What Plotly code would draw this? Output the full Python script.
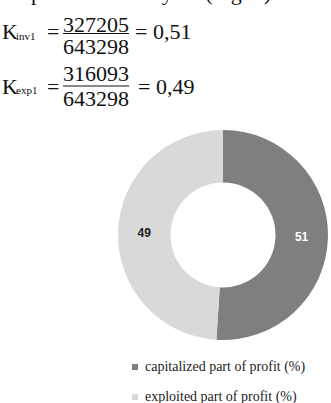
import plotly.graph_objects as go

W, H = 331, 403

# Data
categories = ["capitalized part of profit (%)", "exploited part of profit (%)"]
values = [51, 49]
colors = ["#7f7f7f", "#d9d9d9"]
label_colors = ["#ffffff", "#222222"]

# Formula text
header_line = "r of the previous 2017 year (Fig. 3)"
k_names = ["inv1", "exp1"]
numerators = ["327205", "316093"]
denominators = ["643298", "643298"]
results = ["0,51", "0,49"]

def px(x):
    return x / W

def py(y):
    return 1 - y / H

fig = go.Figure()
fig.add_trace(go.Pie(
    labels=categories,
    values=values,
    marker=dict(colors=colors, line=dict(width=0)),
    hole=0.5,
    sort=False,
    direction="clockwise",
    rotation=0,
    textinfo="value",
    texttemplate="<b>%{value}</b>",
    textposition="inside",
    insidetextorientation="horizontal",
    textfont=dict(family="Liberation Sans", size=12, color=label_colors),
    domain=dict(x=[px(118), px(328)], y=[py(340), py(130)]),
    showlegend=False,
    hoverinfo="label+value",
))

annotations = []
shapes = []
serif = "Liberation Serif"

# header line (cut off at top)
annotations.append(dict(text=header_line, x=px(273), y=py(-8), xref="paper", yref="paper",
                        xanchor="right", yanchor="middle", showarrow=False,
                        font=dict(family=serif, size=22, color="#111")))

rows = [dict(k=31.5, num=24, line=33.5, den=46.5), dict(k=86, num=74, line=86, den=98.5)]
for i, r in enumerate(rows):
    annotations.append(dict(text="K", x=px(0), y=py(r["k"]),
                            xref="paper", yref="paper", xanchor="left", yanchor="middle",
                            showarrow=False, font=dict(family=serif, size=22, color="#111")))
    annotations.append(dict(text=k_names[i], x=px(14), y=py(r["k"] + 4),
                            xref="paper", yref="paper", xanchor="left", yanchor="middle",
                            showarrow=False, font=dict(family=serif, size=11, color="#111")))
    annotations.append(dict(text="=", x=px(45), y=py(r["k"]),
                            xref="paper", yref="paper", xanchor="left", yanchor="middle",
                            showarrow=False, font=dict(family=serif, size=22, color="#111")))
    annotations.append(dict(text=numerators[i], x=px(95.5), y=py(r["num"]), xref="paper", yref="paper",
                            xanchor="center", yanchor="middle", showarrow=False,
                            font=dict(family=serif, size=22, color="#111")))
    annotations.append(dict(text=denominators[i], x=px(95.5), y=py(r["den"]), xref="paper", yref="paper",
                            xanchor="center", yanchor="middle", showarrow=False,
                            font=dict(family=serif, size=22, color="#111")))
    shapes.append(dict(type="line", xref="paper", yref="paper", x0=px(63), x1=px(129),
                       y0=py(r["line"]), y1=py(r["line"]), line=dict(color="#111", width=1)))
    annotations.append(dict(text=f"= {results[i]}", x=px(133 + 3 * i), y=py(r["k"]), xref="paper", yref="paper",
                            xanchor="left", yanchor="middle", showarrow=False,
                            font=dict(family=serif, size=22, color="#111")))

# manual legend
leg_y = [367, 397]
for i, cat in enumerate(categories):
    shapes.append(dict(type="rect", xref="paper", yref="paper",
                       x0=px(132), x1=px(138), y0=py(leg_y[i] + 3), y1=py(leg_y[i] - 3),
                       fillcolor=colors[i], line=dict(width=0)))
    annotations.append(dict(text=cat, x=px(143), y=py(leg_y[i]), xref="paper", yref="paper",
                            xanchor="left", yanchor="middle", showarrow=False,
                            font=dict(family=serif, size=14, color="#222")))

fig.update_layout(
    width=W, height=H,
    margin=dict(l=0, r=0, t=0, b=0),
    paper_bgcolor="white", plot_bgcolor="white",
    annotations=annotations, shapes=shapes,
    showlegend=False,
)

fig.write_html("out.html")
